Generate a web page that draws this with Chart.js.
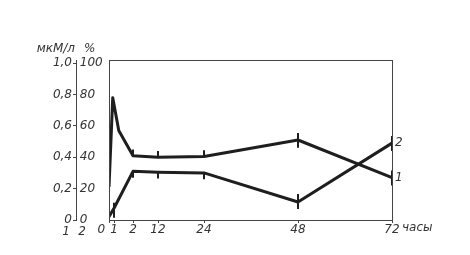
<!DOCTYPE html>
<html>
<head>
<meta charset="utf-8">
<script src="https://cdn.jsdelivr.net/npm/chart.js@4/dist/chart.umd.min.js"></script>
<style>
  html, body { margin: 0; padding: 0; background: #fff; }
</style>
</head>
<body>
<canvas id="chart" width="470" height="255"></canvas>
<script>
"use strict";

// time points (hours) and values (%)
const hours1 = [0, 0.75, 1.25, 2, 12, 24, 48, 72];
const curve1 = [21, 78, 57, 41, 40, 40.5, 51, 27];
const err1Up = [0, 0, 0, 4, 4, 4, 4.5, 4.5];
const err1Down = [0, 0, 0, 0, 0, 0, 5, 5];

const hours2 = [0, 1, 2, 12, 24, 48, 72];
const curve2 = [2, 7.5, 31, 30.5, 30, 11.5, 49];
const err2Up = [0, 3.5, 0, 0, 0, 5, 4.5];
const err2Down = [0, 6, 4, 4, 4, 4.5, 5];

const curveNames = ["1", "2"];

const xTickHours = [0, 1, 2, 12, 24, 48, 72];
const mkmTicks = [0, 0.2, 0.4, 0.6, 0.8, 1.0];
const pctTicks = [0, 20, 40, 60, 80, 100];

// the time axis is stretched piecewise
const axisKnots = [0, 1, 2, 12, 24, 48, 72];
const axisSpan = [0, 5, 24, 49, 95, 189, 283];

const warp = function (h) {
  for (let i = 1; i < axisKnots.length; i++) {
    if (h <= axisKnots[i]) {
      const t = (h - axisKnots[i - 1]) / (axisKnots[i] - axisKnots[i - 1]);
      return axisSpan[i - 1] + t * (axisSpan[i] - axisSpan[i - 1]);
    }
  }
  return axisSpan[axisSpan.length - 1];
};

class PiecewiseScale extends Chart.LinearScale {
  getPixelForValue(value) {
    return this.getPixelForDecimal(warp(value) / axisSpan[axisSpan.length - 1]);
  }
}
PiecewiseScale.id = "piecewise";
PiecewiseScale.defaults = Chart.LinearScale.defaults;
Chart.register(PiecewiseScale);

Chart.defaults.font = { family: "'DejaVu Sans'", size: 12, style: "italic" };
Chart.defaults.color = "#333";

const ink = "#1e1e1e";

const extras = {
  id: "extras",
  afterDatasetsDraw(chart) {
    const ctx = chart.ctx;
    const y = chart.scales.y;
    ctx.save();
    ctx.strokeStyle = ink;
    ctx.lineWidth = 2;
    const errs = [
      [err1Up, err1Down, curve1],
      [err2Up, err2Down, curve2],
    ];
    errs.forEach(function (e, d) {
      const meta = chart.getDatasetMeta(d);
      meta.data.forEach(function (pt, i) {
        if (!e[0][i] && !e[1][i]) return;
        ctx.beginPath();
        ctx.moveTo(pt.x, y.getPixelForValue(e[2][i] + e[0][i]));
        ctx.lineTo(pt.x, y.getPixelForValue(e[2][i] - e[1][i]));
        ctx.stroke();
      });
    });
    ctx.restore();
  },
  afterDraw(chart) {
    const ctx = chart.ctx;
    const area = chart.chartArea;
    const yM = chart.scales.yM;
    const x = chart.scales.x;
    ctx.save();
    ctx.strokeStyle = "#444";
    ctx.lineWidth = 1;
    ctx.strokeRect(
      Math.round(area.left) + 0.5,
      Math.round(area.top) + 0.5,
      Math.round(area.right - area.left),
      Math.round(area.bottom - area.top)
    );
    ctx.fillStyle = "#333";
    ctx.font = "italic 12px 'DejaVu Sans'";
    ctx.textBaseline = "middle";
    // curve numbers
    chart.data.datasets.forEach(function (ds, d) {
      const meta = chart.getDatasetMeta(d);
      const last = meta.data[meta.data.length - 1];
      ctx.textAlign = "left";
      ctx.fillText(curveNames[d], last.x + 3, last.y);
    });
    // axis units
    ctx.textAlign = "right";
    ctx.fillText("мкМ/л", yM.right - 1, area.top - 11);
    ctx.textAlign = "left";
    ctx.fillText("%", yM.right + 8, area.top - 11);
    ctx.textAlign = "center";
    ctx.fillText("1", yM.right - 10, area.bottom + 12);
    ctx.fillText("2", yM.right + 6, area.bottom + 12);
    ctx.textAlign = "left";
    ctx.fillText("часы", x.getPixelForValue(72) + 10, area.bottom + 8);
    ctx.restore();
  },
};

new Chart(document.getElementById("chart").getContext("2d"), {
  type: "line",
  data: {
    datasets: [
      {
        data: hours1.map((h, i) => ({ x: h, y: curve1[i] })),
        borderColor: ink,
        borderWidth: 3,
        borderJoinStyle: "round",
        pointRadius: 0,
        tension: 0,
        yAxisID: "y",
      },
      {
        data: hours2.map((h, i) => ({ x: h, y: curve2[i] })),
        borderColor: ink,
        borderWidth: 3,
        borderJoinStyle: "round",
        pointRadius: 0,
        tension: 0,
        yAxisID: "y",
      },
    ],
  },
  options: {
    responsive: false,
    animation: false,
    layout: { padding: { left: 20, top: 60, right: 78, bottom: 15 } },
    plugins: {
      legend: { display: false },
      tooltip: { enabled: false },
    },
    scales: {
      x: {
        type: "piecewise",
        min: 0,
        max: 72,
        afterBuildTicks: (s) => { s.ticks = xTickHours.map((v) => ({ value: v })); },
        afterFit: (s) => { s.height = 20; },
        ticks: {
          autoSkip: false,
          maxRotation: 0,
          padding: 0,
          color: "#333",
          callback: (v, i) => (i === 0 ? "0    " : String(xTickHours[i])),
        },
        grid: { drawOnChartArea: false, tickLength: 3, color: "#444" },
        border: { display: false },
      },
      yM: {
        position: "left",
        weight: 2,
        min: 0,
        max: 1.02,
        afterBuildTicks: (s) => { s.ticks = mkmTicks.map((v) => ({ value: v })); },
        afterFit: (s) => { s.width = 56; },
        ticks: {
          padding: 1,
          color: "#333",
          callback: (v) => (v === 0 ? "0" : v.toFixed(1).replace(".", ",")),
        },
        grid: { drawOnChartArea: false, tickLength: 3, color: "#444" },
        border: { display: true, color: "#444", width: 1 },
      },
      y: {
        position: "left",
        weight: 1,
        min: 0,
        max: 102,
        afterBuildTicks: (s) => { s.ticks = pctTicks.map((v) => ({ value: v })); },
        afterFit: (s) => { s.width = 33; },
        ticks: {
          crossAlign: "far",
          padding: 0,
          color: "#333",
          callback: (v) => " " + v,
        },
        grid: { display: false },
        border: { display: false },
      },
    },
  },
  plugins: [extras],
});
</script>
</body>
</html>
